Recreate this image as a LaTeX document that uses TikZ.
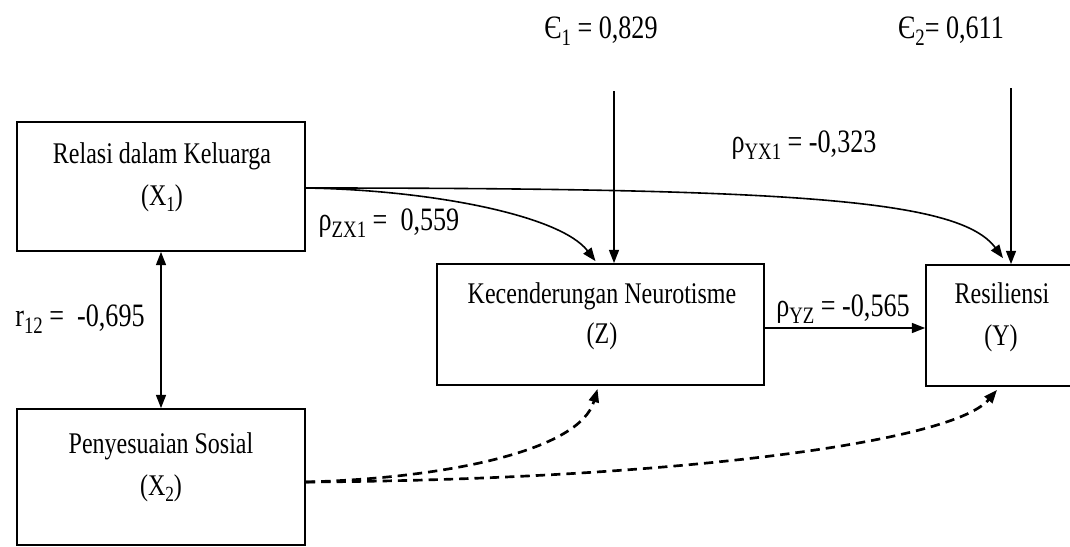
\documentclass[tikz,border=0pt]{standalone}
\usepackage{fontspec}
\usepackage{graphicx}
\setmainfont{Liberation Serif}[FakeStretch=0.8]
\usetikzlibrary{arrows.meta,calc}
\newcommand\sbs[1]{\raisebox{-0.22em}{\scalebox{0.72}{#1}}}
\begin{document}
\begin{tikzpicture}[x=0.75pt,y=-0.75pt,
  box/.style={draw, line width=1.3pt, inner sep=0pt},
  btxt/.style={anchor=base, inner sep=0pt, font=\fontsize{22.5}{27}\selectfont},
  lbl/.style={anchor=base, inner sep=0pt, font=\fontsize{24.5}{28}\selectfont},
  arr/.style={line width=1.2pt, -{Triangle[length=10pt,width=7.5pt]}},
  dblarr/.style={line width=1.2pt, {Triangle[length=10pt,width=7.5pt]}-{Triangle[length=10pt,width=7.5pt]}},
  darr/.style={line width=2pt, dash pattern=on 7pt off 4.5pt, -{Triangle[length=10pt,width=7.5pt]}}]
\useasboundingbox (0,0) rectangle (1070,546);
\clip (0,0) rectangle (1070,546);
\fill[white] (0,0) rectangle (1070,546);

% boxes
\node[box, minimum width=216pt, minimum height=96.75pt] (x1) at (161,186.5) {};
\node[box, minimum width=216pt, minimum height=102pt] (x2) at (161,477) {};
\node[box, minimum width=245.25pt, minimum height=90.75pt] (z) at (600.5,324.5) {};
\node[box, minimum width=114pt, minimum height=90.75pt] (y) at (1002,325.5) {};

% box texts
\node[btxt] (x1a) at (162,163) {Relasi dalam Keluarga};
\node[btxt] (x1b) at (162,205) {(X\sbs{1})};
\node[btxt] (x2a) at (161,453) {Penyesuaian Sosial};
\node[btxt] (x2b) at (161,495) {(X\sbs{2})};
\node[btxt] (za) at (602,303) {Kecenderungan Neurotisme};
\node[btxt] (zb) at (602,343) {(Z)};
\node[btxt] (ya) at (1002,303) {Resiliensi};
\node[btxt] (yb) at (1001,345) {(Y)};

% labels
\node[lbl] (e1) at (601,38) {Є\sbs{1} = 0,829};
\node[lbl] (e2) at (951,38) {Є\sbs{2}= 0,611};
\node[lbl] (pyx) at (804,152) {ρ\sbs{YX1} = -0,323};
\node[lbl] (pzx) at (389,230) {ρ\sbs{ZX1} =\ \ 0,559};
\node[lbl] (r12) at (80,326) {r\sbs{12} =\ \ -0,695};
\node[lbl] (pyz) at (843,316) {ρ\sbs{YZ} = -0,565};

% error arrows
\coordinate (e1s) at (614,91);
\coordinate (e2s) at (1011,88);
\draw[arr] (e1s) -- (e1s |- z.north);
\draw[arr] (e2s) -- (e2s |- y.north);

% correlation
\draw[dblarr] (x1.south) -- (x2.north);

% paths
\draw[arr] (z.east |- 0,328) -- (y.west |- 0,328);
\draw[arr] ($(x1.east)+(0,1.5)$) .. controls (800,188) and (960,200) .. ($(y.north)+(1,-6)$);
\draw[arr] ($(x1.east)+(0,1.5)$) .. controls (430,190) and (560,215) .. ($(z.north)+(-5,-2)$);
\draw[darr] ($(x2.east)+(0,5)$) .. controls (450,478) and (580,450) .. ($(z.south)+(-3,3)$);
\draw[darr] ($(x2.east)+(0,5)$) .. controls (650,480) and (950,445) .. ($(y.south)+(-5,3)$);
\end{tikzpicture}
\end{document}
